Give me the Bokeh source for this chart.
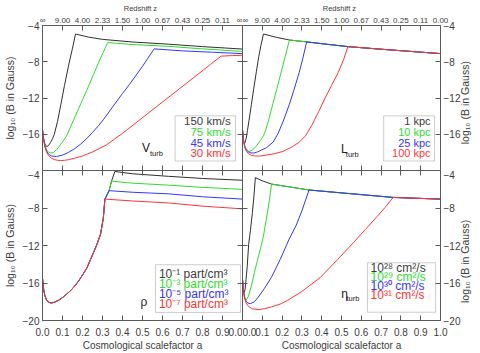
import math
from bokeh.plotting import figure
from bokeh.models import LinearAxis, FixedTicker, Range1d, Label, BoxAnnotation
from bokeh.layouts import gridplot
from bokeh.embed import file_html
from bokeh.resources import INLINE

# ---------------- data ----------------
x_ticks = [0.0, 0.1, 0.2, 0.3, 0.4, 0.5, 0.6, 0.7, 0.8, 0.9, 1.0]
a_labels = ["0.0", "0.1", "0.2", "0.3", "0.4", "0.5", "0.6", "0.7", "0.8", "0.9", "1.0"]
z_labels = ["\u221e", "9.00", "4.00", "2.33", "1.50", "1.00", "0.67", "0.43", "0.25", "0.11", "0.00"]
y_ticks = [-20, -16, -12, -8, -4]
y_labels = ["\u221220", "\u221216", "\u221212", "\u22128", "\u22124"]
y_title = "log\u2081\u2080 (B in Gauss)"

# Panel 1: turbulent velocity
vt150_a = [0.0, 0.005, 0.010, 0.016, 0.022, 0.030, 0.040, 0.050, 0.059, 0.075, 0.092, 0.110, 0.133, 0.150, 0.165, 0.230, 0.300, 0.450, 0.630, 0.800, 1.000]
vt150_b = [-15.5, -16.4, -16.95, -17.25, -17.35, -17.25, -16.9, -16.5, -16.0, -14.6, -12.7, -10.6, -8.15, -6.5, -4.94, -5.28, -5.53, -5.82, -6.06, -6.33, -6.60]
vt75_a = [0.0, 0.006, 0.012, 0.020, 0.030, 0.042, 0.055, 0.070, 0.085, 0.100, 0.121, 0.140, 0.160, 0.180, 0.200, 0.220, 0.255, 0.290, 0.326, 0.450, 0.630, 0.800, 1.000]
vt75_b = [-15.5, -16.5, -17.2, -17.7, -17.98, -18.08, -18.0, -17.7, -17.3, -16.85, -16.16, -15.2, -14.2, -13.2, -12.2, -11.2, -9.4, -7.6, -5.88, -6.1, -6.3, -6.58, -6.86]
vt45_a = [0.0, 0.006, 0.012, 0.020, 0.030, 0.045, 0.070, 0.100, 0.130, 0.160, 0.190, 0.220, 0.250, 0.280, 0.304, 0.350, 0.400, 0.435, 0.500, 0.558, 0.700, 0.850, 1.000]
vt45_b = [-15.5, -16.6, -17.3, -17.85, -18.2, -18.4, -18.45, -18.3, -18.0, -17.6, -17.1, -16.5, -15.8, -15.05, -14.4, -13.0, -11.5, -10.5, -8.5, -6.58, -6.8, -6.95, -7.1]
vt30_a = [0.0, 0.006, 0.012, 0.020, 0.030, 0.045, 0.060, 0.075, 0.090, 0.110, 0.130, 0.160, 0.200, 0.250, 0.318, 0.400, 0.481, 0.571, 0.640, 0.713, 0.780, 0.840, 0.893, 0.950, 1.000]
vt30_b = [-15.5, -16.7, -17.4, -17.95, -18.35, -18.65, -18.8, -18.87, -18.9, -18.88, -18.8, -18.65, -18.4, -17.95, -17.2, -15.9, -14.5, -12.94, -11.75, -10.49, -9.33, -8.29, -7.38, -7.32, -7.28]
vt_names = ["150 km/s", "75 km/s", "45 km/s", "30 km/s"]

# Panel 2: turbulent length scale
lt1_a = [0.0, 0.004, 0.008, 0.012, 0.018, 0.025, 0.033, 0.045, 0.057, 0.070, 0.082, 0.094, 0.106, 0.170, 0.237, 0.324, 0.430, 0.532, 0.750, 1.000]
lt1_b = [-15.5, -16.6, -17.0, -17.0, -16.5, -15.6, -14.45, -12.7, -10.93, -9.1, -7.45, -6.1, -4.94, -5.3, -5.6, -5.81, -6.08, -6.33, -6.7, -7.1]
lt10_a = [0.0, 0.006, 0.012, 0.020, 0.033, 0.050, 0.070, 0.090, 0.106, 0.118, 0.130, 0.155, 0.172, 0.190, 0.210, 0.237, 0.324, 0.430, 0.532, 0.750, 1.000]
lt10_b = [-15.5, -16.7, -17.3, -17.7, -17.9, -17.75, -17.3, -16.7, -16.16, -15.5, -14.6, -12.5, -11.1, -9.6, -7.9, -5.6, -5.81, -6.08, -6.33, -6.7, -7.1]
lt25_a = [0.0, 0.006, 0.012, 0.020, 0.030, 0.042, 0.057, 0.075, 0.095, 0.120, 0.155, 0.180, 0.205, 0.237, 0.260, 0.286, 0.305, 0.324, 0.430, 0.532, 0.750, 1.000]
lt25_b = [-15.5, -16.8, -17.4, -17.75, -17.95, -18.05, -18.08, -17.95, -17.75, -17.5, -16.86, -15.9, -14.6, -12.68, -11.1, -9.2, -7.6, -5.81, -6.08, -6.33, -6.7, -7.1]
lt100_a = [0.0, 0.006, 0.012, 0.020, 0.030, 0.045, 0.065, 0.090, 0.120, 0.160, 0.204, 0.250, 0.285, 0.319, 0.350, 0.385, 0.417, 0.450, 0.483, 0.510, 0.532, 0.750, 1.000]
lt100_b = [-15.5, -16.9, -17.5, -17.9, -18.15, -18.32, -18.4, -18.4, -18.3, -18.15, -17.9, -17.4, -16.9, -16.16, -15.0, -13.5, -12.0, -10.6, -9.2, -7.8, -6.33, -6.7, -7.1]
lt_names = ["1 kpc", "10 kpc", "25 kpc", "100 kpc"]

# Panel 3: gas density
rho1_a = [0.0, 0.006, 0.012, 0.020, 0.030, 0.043, 0.060, 0.080, 0.100, 0.120, 0.141, 0.160, 0.180, 0.200, 0.222, 0.250, 0.272, 0.290, 0.304, 0.312, 0.333, 0.345, 0.362, 0.450, 0.630, 0.800, 1.000]
rho1_b = [-15.5, -16.7, -17.35, -17.8, -18.05, -18.13, -18.05, -17.85, -17.55, -17.2, -16.8, -16.35, -15.8, -15.15, -14.4, -13.0, -11.9, -10.8, -9.1, -7.05, -6.15, -5.14, -4.1, -4.35, -4.62, -4.85, -5.04]
rho3_a = [0.0, 0.006, 0.012, 0.020, 0.030, 0.043, 0.060, 0.080, 0.100, 0.120, 0.141, 0.160, 0.180, 0.200, 0.222, 0.250, 0.272, 0.290, 0.304, 0.312, 0.333, 0.345, 0.450, 0.630, 0.800, 1.000]
rho3_b = [-15.5, -16.7, -17.35, -17.8, -18.05, -18.13, -18.05, -17.85, -17.55, -17.2, -16.8, -16.35, -15.8, -15.15, -14.4, -13.0, -11.9, -10.8, -9.1, -7.05, -6.15, -5.14, -5.35, -5.56, -5.8, -6.01]
rho5_a = [0.0, 0.006, 0.012, 0.020, 0.030, 0.043, 0.060, 0.080, 0.100, 0.120, 0.141, 0.160, 0.180, 0.200, 0.222, 0.250, 0.272, 0.290, 0.304, 0.312, 0.333, 0.450, 0.630, 0.800, 1.000]
rho5_b = [-15.5, -16.7, -17.35, -17.8, -18.05, -18.13, -18.05, -17.85, -17.55, -17.2, -16.8, -16.35, -15.8, -15.15, -14.4, -13.0, -11.9, -10.8, -9.1, -7.05, -6.15, -6.32, -6.49, -6.8, -7.05]
rho7_a = [0.0, 0.006, 0.012, 0.020, 0.030, 0.043, 0.060, 0.080, 0.100, 0.120, 0.141, 0.160, 0.180, 0.200, 0.222, 0.250, 0.272, 0.290, 0.304, 0.312, 0.450, 0.630, 0.800, 1.000]
rho7_b = [-15.5, -16.7, -17.35, -17.8, -18.05, -18.13, -18.05, -17.85, -17.55, -17.2, -16.8, -16.35, -15.8, -15.15, -14.4, -13.0, -11.9, -10.8, -9.1, -7.05, -7.25, -7.46, -7.8, -8.09]
rho_names = ["10\u207b\u00b9 part/cm\u00b3", "10\u207b\u00b3 part/cm\u00b3", "10\u207b\u2075 part/cm\u00b3", "10\u207b\u2077 part/cm\u00b3"]

# Panel 4: turbulent diffusivity
eta28_a = [0.0, 0.003, 0.006, 0.009, 0.013, 0.018, 0.024, 0.031, 0.040, 0.050, 0.058, 0.065, 0.100, 0.147, 0.336, 0.550, 0.761, 1.000]
eta28_b = [-15.6, -16.4, -16.9, -17.0, -16.7, -15.6, -14.2, -11.9, -10.4, -8.5, -6.7, -4.76, -5.1, -5.45, -6.08, -6.48, -6.87, -7.05]
eta29_a = [0.0, 0.004, 0.008, 0.013, 0.018, 0.030, 0.045, 0.060, 0.075, 0.090, 0.105, 0.120, 0.135, 0.147, 0.336, 0.550, 0.761, 1.000]
eta29_b = [-15.6, -16.6, -17.3, -17.7, -17.85, -17.4, -16.3, -14.9, -13.6, -12.4, -11.1, -9.2, -7.3, -5.45, -6.08, -6.48, -6.87, -7.05]
eta30_a = [0.0, 0.005, 0.010, 0.018, 0.028, 0.040, 0.060, 0.080, 0.110, 0.146, 0.190, 0.236, 0.270, 0.300, 0.336, 0.550, 0.761, 1.000]
eta30_b = [-15.6, -16.8, -17.5, -17.95, -18.15, -18.2, -18.0, -17.5, -16.6, -15.4, -13.5, -11.3, -9.9, -8.3, -6.08, -6.48, -6.87, -7.05]
eta31_a = [0.0, 0.005, 0.010, 0.018, 0.030, 0.050, 0.080, 0.110, 0.146, 0.190, 0.228, 0.300, 0.392, 0.480, 0.560, 0.620, 0.680, 0.720, 0.761, 0.850, 1.000]
eta31_b = [-15.6, -16.9, -17.6, -18.1, -18.5, -18.75, -18.83, -18.75, -18.55, -18.25, -17.85, -16.9, -15.43, -13.5, -11.7, -10.3, -8.9, -7.95, -6.87, -6.95, -7.05]
eta_names = ["10\u00b2\u2078 cm\u00b2/s", "10\u00b2\u2079 cm\u00b2/s", "10\u00b3\u2070 cm\u00b2/s", "10\u00b3\u00b9 cm\u00b2/s"]

# ---------------- style ----------------
FONT = "Liberation Sans"
TXT = "#3c3c3c"
AXC = "#5a5a5a"
COLORS = ["#303030", "#2fdc2f", "#3535ff", "#ff3535"]

panels = [
    dict(col=0, row=0, curves=[(vt150_a, vt150_b), (vt75_a, vt75_b), (vt45_a, vt45_b), (vt30_a, vt30_b)],
         names=vt_names, box=(0.663, 0.965, -13.97, -18.95), align="right", tx=0.941, fs="11.5px",
         ty=[-14.59, -15.71, -16.94, -18.09], sym="V", sub="turb", sx=0.497, sy=-17.5, bx=0.537, by=-18.15),
    dict(col=1, row=0, curves=[(lt1_a, lt1_b), (lt10_a, lt10_b), (lt25_a, lt25_b), (lt100_a, lt100_b)],
         names=lt_names, box=(0.713, 0.970, -13.97, -18.95), align="right", tx=0.95, fs="11px",
         ty=[-14.59, -15.71, -16.94, -18.09], sym="L", sub="turb", sx=0.498, sy=-17.6, bx=0.522, by=-18.2),
    dict(col=0, row=1, curves=[(rho1_a, rho1_b), (rho3_a, rho3_b), (rho5_a, rho5_b), (rho7_a, rho7_b)],
         names=rho_names, box=(0.565, 0.99, -14.05, -19.14), align="left", tx=0.582, fs="12px",
         ty=[-15.08, -16.12, -17.16, -18.2], sym="\u03c1", sub="", sx=0.49, sy=-18.0, bx=0.0, by=0.0),
    dict(col=1, row=1, curves=[(eta28_a, eta28_b), (eta29_a, eta29_b), (eta30_a, eta30_b), (eta31_a, eta31_b)],
         names=eta_names, box=(0.631, 0.975, -13.84, -19.12), align="left", tx=0.647, fs="12px",
         ty=[-14.39, -15.36, -16.31, -17.27], sym="\u03b7", sub="turb", sx=0.499, sy=-17.2, bx=0.525, by=-17.6),
]


def style_axis(ax, labeled, side, overrides, top):
    ax.major_tick_in = 5
    ax.major_tick_out = 0
    ax.minor_tick_in = 0
    ax.minor_tick_out = 0
    ax.axis_line_color = AXC
    ax.major_tick_line_color = AXC
    ax.axis_line_width = 1
    if not labeled:
        ax.major_label_text_font_size = "0px"
        ax.major_label_text_color = None
        ax.major_label_standoff = 0
        ax.axis_label = None
        return
    ax.major_label_overrides = overrides
    ax.major_label_text_font = FONT
    ax.major_label_text_color = TXT
    ax.axis_label_text_font = FONT
    ax.axis_label_text_color = TXT
    ax.axis_label_text_font_style = "normal"
    if side == "above":
        ax.major_label_text_font_size = "8px"
        ax.major_label_standoff = 1
        ax.axis_label = "Redshift   z"
        ax.axis_label_text_font_size = "7.5px"
        ax.axis_label_standoff = 0
    elif side == "below":
        ax.major_label_text_font_size = "10px"
        ax.major_label_standoff = 7
        ax.axis_label = "Cosmological scalefactor a"
        ax.axis_label_text_font_size = "10px"
        ax.axis_label_standoff = 1
    elif side == "left":
        ax.major_label_text_font_size = "10px"
        ax.major_label_standoff = 3
        ax.axis_label = y_title
        ax.axis_label_text_font_size = "10.5px"
        ax.axis_label_standoff = 4
    else:
        ax.major_label_text_font_size = "10px"
        ax.major_label_standoff = 3
        # bottom-to-top title as in the original; lifted off the axis start
        pad = "\u00a0" * (9 if top else 6)
        ax.axis_label = pad + y_title
        ax.axis_label_text_font_size = "10.5px"
        ax.axis_label_standoff = 2
        ax.axis_label_orientation = math.pi / 2
        if "axis_label_align" in ax.properties():
            ax.axis_label_align = "start"


figs = []
for pn in panels:
    left = pn["col"] == 0
    top = pn["row"] == 0
    p = figure(width=242 if left else 238, height=170 if top else 183,
               x_range=Range1d(0, 1), y_range=Range1d(-20, -4),
               output_backend="svg", toolbar_location=None,
               x_axis_location=None, y_axis_location=None, min_border=0)
    p.min_border_left = 38 if left else 0
    p.min_border_right = 0 if left else 35
    p.min_border_top = 17 if top else 0
    p.min_border_bottom = 0 if top else 29
    p.outline_line_color = None
    p.background_fill_color = "white"
    p.border_fill_color = "white"
    p.grid.grid_line_color = None

    if top:
        xl = list(z_labels)
        if left:
            xl[-1] = z_labels[0]
    else:
        xl = list(a_labels)
        if left:
            xl[-1] = a_labels[0]
    x_over = {t: l for t, l in zip(x_ticks, xl)}
    y_over = {t: l for t, l in zip(y_ticks, y_labels)}
    if top:
        y_over[-20] = ""

    for side in ["left", "right", "above", "below"]:
        if side in ("left", "right"):
            ax = LinearAxis(ticker=FixedTicker(ticks=y_ticks))
            labeled = (side == "left") == left
            style_axis(ax, labeled, side, y_over, top)
        else:
            ax = LinearAxis(ticker=FixedTicker(ticks=x_ticks))
            labeled = (side == "above") == top
            style_axis(ax, labeled, side, x_over, top)
        p.add_layout(ax, side)

    for (xa, yb), c in zip(pn["curves"], COLORS):
        p.line(xa, yb, line_color=c, line_width=1)

    l, r, t, b = pn["box"]
    p.add_layout(BoxAnnotation(left=l, right=r, top=t, bottom=b, fill_color=None,
                               line_color=AXC, line_width=1))
    for name, yy, c in zip(pn["names"], pn["ty"], COLORS):
        p.add_layout(Label(x=pn["tx"], y=yy, text=name, text_align=pn["align"],
                           text_baseline="middle", text_font=FONT, text_font_size=pn["fs"],
                           text_color=c if c != COLORS[0] else TXT))
    p.add_layout(Label(x=pn["sx"], y=pn["sy"], text=pn["sym"], text_align="left",
                       text_baseline="middle", text_font=FONT, text_font_size="12px",
                       text_color="#222222"))
    if pn["sub"]:
        p.add_layout(Label(x=pn["bx"], y=pn["by"], text=pn["sub"], text_align="left",
                           text_baseline="middle", text_font=FONT, text_font_size="7.5px",
                           text_color="#222222"))
    figs.append(p)

grid = gridplot([[figs[0], figs[1]], [figs[2], figs[3]]], toolbar_location=None)
open("out.html", "w").write(file_html(grid, INLINE))
